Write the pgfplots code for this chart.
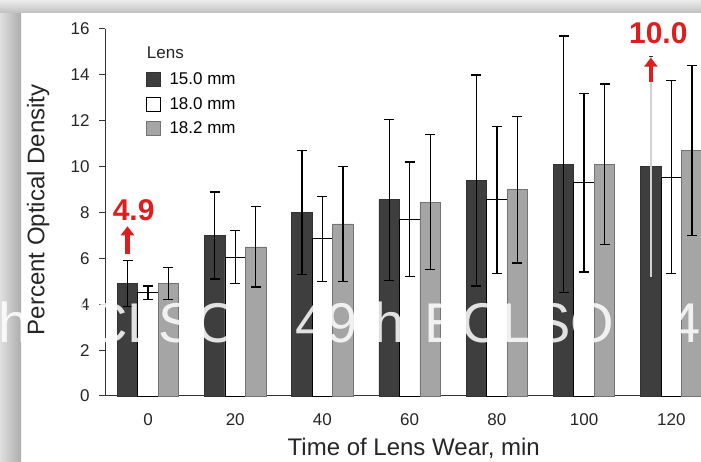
\documentclass[border=0pt]{standalone}
\usepackage{pgfplots}
\pgfplotsset{compat=1.18}
\usepackage{pgfplotstable}
\usepackage{fontspec}
\setmainfont{Liberation Sans}
\usetikzlibrary{arrows.meta}
\definecolor{darkbar}{RGB}{62,62,62}
\definecolor{graybar}{RGB}{165,165,165}
\definecolor{annred}{RGB}{222,30,30}

\pgfplotstableread{
x y e
0 4.9 1.0
20 7.0 1.9
40 8.0 2.7
60 8.55 3.5
80 9.4 4.6
100 10.1 5.6
120 10.0 4.8
}\darkdata
\pgfplotstableread{
x y e
0 4.5 0.3
20 6.05 1.15
40 6.85 1.85
60 7.7 2.5
80 8.55 3.2
100 9.3 3.9
120 9.55 4.2
}\whitedata
\pgfplotstableread{
x y e
0 4.9 0.7
20 6.5 1.75
40 7.5 2.5
60 8.45 2.95
80 9.0 3.2
100 10.1 3.5
120 10.7 3.7
}\graydata

\begin{document}
\begin{tikzpicture}[x=1pt,y=1pt]
\useasboundingbox (0,0) rectangle (701,462);
\clip (0,0) rectangle (701,462);
\fill[white] (0,0) rectangle (701,462);
\fill[left color=gray!25, right color=gray!65] (0,0) rectangle (21,462);
\fill[top color=gray!15, bottom color=gray!50] (0,449) rectangle (701,462);
\begin{axis}[
  at={(105pt,66pt)}, anchor=south west,
  scale only axis, width=596pt, height=367pt,
  xmin=-9.86, xmax=126.8, ymin=0, ymax=16,
  axis x line*=bottom, axis y line*=left,
  axis line style={black!80, line width=1pt},
  clip=false,
  xtick={0,20,...,120}, ytick={0,2,...,16},
  xtick style={draw=none},
  ytick style={black!80, line width=1pt},
  tick align=outside, major tick length=6pt,
  /pgf/number format/assume math mode=true,
  tick label style={font=\fontsize{17}{17}\selectfont, black!85},
  yticklabel style={xshift=-6pt},
  xticklabel style={yshift=-8pt},
  xlabel={Time of Lens Wear, min},
  ylabel={Percent Optical Density},
  label style={font=\fontsize{24}{24}\selectfont, black!85},
  xlabel style={at={(axis description cs:0.518,-0.142)}, anchor=center},
  ylabel style={at={(axis description cs:-0.112,0.507)}, anchor=center, rotate=0},
  mylegend/.style={legend image code/.code={\draw[##1, line width=0.8pt] (0pt,-7pt) rectangle (14pt,7pt);}},
  legend style={at={(rel axis cs:0.068,0.886)}, anchor=north west, draw=none, fill=none,
    font=\fontsize{17}{17}\selectfont, row sep=7pt, inner sep=0pt,
    /tikz/every odd column/.append style={column sep=7pt}},
  legend cell align=left,
  error bars/error bar style={line width=1.3pt, black},
  error bars/error mark options={rotate=90, line width=1.3pt, mark size=5pt, black},
]
\addplot[ybar, bar width=4.7, bar shift=0, fill=darkbar, draw=darkbar!80!black, line width=0.8pt, mylegend,
  error bars/.cd, y dir=both, y explicit]
  table[x expr=\thisrow{x}-4.7, y=y, y error=e, restrict x to domain=-10:105] {\darkdata};
\addplot[ybar, bar width=4.7, bar shift=0, fill=darkbar, draw=darkbar!80!black, line width=0.8pt, forget plot,
  error bars/.cd, y dir=both, y explicit, error bar style={gray!35}, error mark options={rotate=90, black!80}]
  table[x expr=\thisrow{x}-4.7, y=y, y error=e, restrict x to domain=105:130] {\darkdata};
\addplot[ybar, bar width=4.7, bar shift=0, fill=white, draw=black, line width=0.8pt, mylegend,
  error bars/.cd, y dir=both, y explicit]
  table[x=x, y=y, y error=e] {\whitedata};
\addplot[ybar, bar width=4.7, bar shift=0, fill=graybar, draw=black!55, line width=0.8pt, mylegend,
  error bars/.cd, y dir=both, y explicit]
  table[x expr=\thisrow{x}+4.7, y=y, y error=e] {\graydata};
\legend{15.0 mm, 18.0 mm, 18.2 mm}
\node[anchor=west, font=\fontsize{17}{17}\selectfont, black!85, inner sep=0pt] at (rel axis cs:0.07,0.935) {Lens};
\draw[annred, line width=4.5pt, -{Triangle[width=13pt,length=9pt]}] (axis cs:-4.7,6.2) -- (axis cs:-4.7,7.4);
\node[annred, font=\bfseries\fontsize{30}{30}\selectfont] at (axis cs:-3.3,8.08) {4.9};
\draw[annred, line width=4.5pt, -{Triangle[width=13pt,length=9pt]}] (axis cs:115.3,13.7) -- (axis cs:115.3,14.75);
\node[annred, font=\bfseries\fontsize{30}{30}\selectfont] at (axis cs:117,15.8) {10.0};
\end{axis}
\node[white, opacity=0.85, font=\fontsize{56}{56}\selectfont, anchor=base east, inner sep=0pt] at (240,119) {49th\hspace{20pt}ECLSO};
\node[white, opacity=0.85, font=\fontsize{56}{56}\selectfont, anchor=base west, inner sep=0pt] at (295,119) {49th\hspace{20pt}ECLSO\hspace{55pt}49th};
\end{tikzpicture}
\end{document}
